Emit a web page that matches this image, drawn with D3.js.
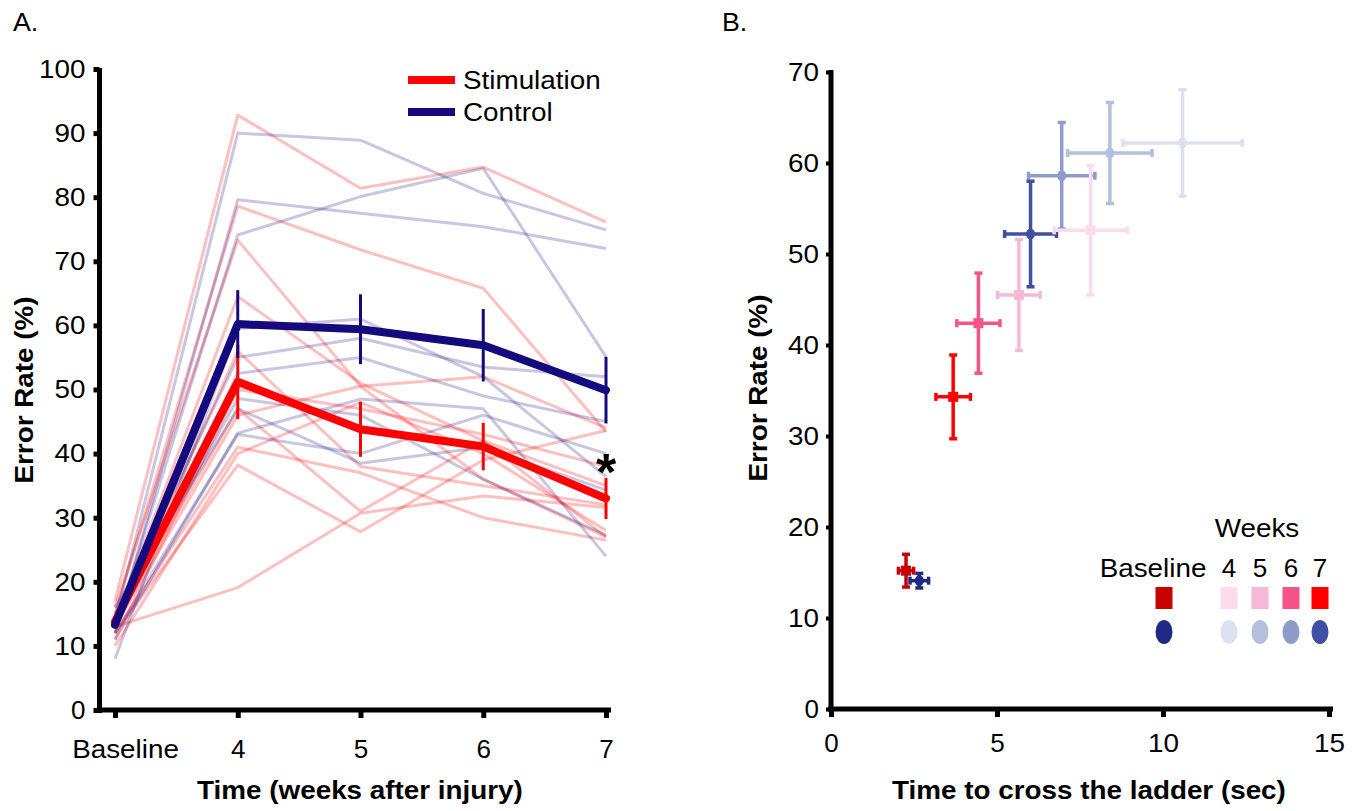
<!DOCTYPE html>
<html><head><meta charset="utf-8">
<script src="https://cdn.jsdelivr.net/npm/d3@7"></script>
<style>
body{margin:0;background:#fff}
text{font-family:Arial,"Liberation Sans",Helvetica,sans-serif;fill:#000}
</style>
</head><body>
<svg id="chart" width="1361" height="811"></svg>
<script>
// ---------- Panel A data ----------
const weeks = ["Baseline","4","5","6","7"];
const stimMean = [13.8, 51.2, 43.8, 41.1, 33.0];
const stimSem  = [0, 5.8, 4.3, 3.7, 3.2];
const ctrlMean = [13.3, 60.2, 59.4, 56.9, 49.9];
const ctrlSem  = [0, 5.3, 5.45, 5.65, 5.2];
const stimIndividuals = [
  [17, 92.8, 81.4, 84.7, 76.1],
  [15, 78.6, 71.8, 65.8, 43.4],
  [16, 73.3, 50.5, 36, 27],
  [13, 19.1, 30.7, 33.4, 31.6],
  [12, 38.2, 27.8, 39.0, 43.6],
  [14, 64.5, 51, 42, 27],
  [13, 46, 50.5, 52, 44],
  [11, 50, 47, 43, 38],
  [12, 41, 37, 30, 26.5],
  [10, 40, 48, 40, 28],
  [14, 47, 31, 42, 35],
  [13, 56, 38, 35, 32]
];
const ctrlIndividuals = [
  [14, 90.0, 88.9, 80.6, 74.9],
  [12, 79.6, 77.5, 75.4, 72.0],
  [13, 74.1, 80.1, 84.5, 55.1],
  [8, 59.5, 61, 52, 36.4],
  [15, 55, 58, 53.5, 52],
  [13, 52.5, 55, 49, 45],
  [11, 43.2, 48.5, 47, 24],
  [16, 47, 38.5, 41, 34.3],
  [12, 43, 40, 46, 40],
  [14, 48.6, 46, 36, 27.3]
];
const yTicksA = [0,10,20,30,40,50,60,70,80,90,100];
const seriesNames = ["Stimulation","Control"];

// ---------- Panel B data ----------
const bLabels = ["Baseline","4","5","6","7"];
const stimTime      = [2.26, 7.82, 5.66, 4.44, 3.68];
const stimTimeErr   = [0.23, 1.10, 0.64, 0.65, 0.52];
const stimRate      = [15.2, 52.6, 45.5, 42.4, 34.3];
const stimRateErr   = [1.8, 7.1, 6.1, 5.5, 4.6];
const ctrlTime      = [2.66, 10.59, 8.40, 6.95, 6.01];
const ctrlTimeErr   = [0.28, 1.80, 1.27, 1.00, 0.78];
const ctrlRate      = [14.1, 62.2, 61.1, 58.6, 52.2];
const ctrlRateErr   = [0.8, 5.85, 5.55, 5.85, 5.8];
const stimColors = ["#c80000","#fadcea","#f7b8d6","#f45487","#ff0000"];
const ctrlColors = ["#1f2a84","#dde1ef","#b4bfdd","#8f9ccb","#3f4fa3"];
const xTicksB = [0,5,10,15];
const yTicksB = [0,10,20,30,40,50,60,70];

const RED = "#ff0000", NAVY = "#150a7d";
const svg = d3.select("#chart");
svg.append("rect").attr("width",1361).attr("height",811).attr("fill","#fff");

function styleAxis(g, w){
  g.select(".domain").remove();
  g.selectAll(".tick line").attr("stroke","#000").attr("stroke-width",w);
  g.selectAll(".tick text").attr("font-size",26).attr("fill","#000");
}

// ================= PANEL A =================
const xA = d3.scalePoint().domain(weeks).range([115, 606]);
const yA = d3.scaleLinear().domain([0,100]).range([710, 69]);
const gA = svg.append("g");

const lineA = d3.line().x((d,i)=>xA(weeks[i])).y(d=>yA(d));
gA.selectAll(".sInd").data(stimIndividuals).join("path")
  .attr("d", lineA).attr("fill","none").attr("stroke","rgba(255,0,0,0.25)")
  .attr("stroke-width",3).attr("stroke-linejoin","round");
gA.selectAll(".cInd").data(ctrlIndividuals).join("path")
  .attr("d", lineA).attr("fill","none").attr("stroke","rgba(21,10,125,0.23)")
  .attr("stroke-width",3).attr("stroke-linejoin","round");

function meanSeries(mean, sem, color){
  gA.append("path").datum(mean).attr("d", lineA).attr("fill","none")
    .attr("stroke",color).attr("stroke-width",8)
    .attr("stroke-linejoin","round").attr("stroke-linecap","round");
  gA.selectAll(null).data(mean.map((m,i)=>({m, s:sem[i], w:weeks[i]})).filter(d=>d.s>0))
    .join("line")
    .attr("x1",d=>xA(d.w)).attr("x2",d=>xA(d.w))
    .attr("y1",d=>yA(d.m+d.s)).attr("y2",d=>yA(d.m-d.s))
    .attr("stroke",color).attr("stroke-width",3);
}
meanSeries(stimMean, stimSem, RED);
meanSeries(ctrlMean, ctrlSem, NAVY);

const axYA = gA.append("g").attr("transform","translate(99.5,0)")
  .call(d3.axisLeft(yA).tickValues(yTicksA).tickSize(6).tickPadding(8));
styleAxis(axYA, 5);
gA.append("line").attr("x1",99.5).attr("x2",99.5).attr("y1",yA(100)-1).attr("y2",yA(0)+3)
  .attr("stroke","#000").attr("stroke-width",5);
const axXA = gA.append("g").attr("transform",`translate(0,${yA(0)})`)
  .call(d3.axisBottom(xA).tickSize(8).tickPadding(22));
styleAxis(axXA, 5);
axXA.selectAll(".tick line").attr("y1",2);
axXA.selectAll(".tick text").filter(d=>d==="Baseline").attr("dx",10);
gA.append("line").attr("x1",97).attr("x2",611).attr("y1",yA(0)).attr("y2",yA(0))
  .attr("stroke","#000").attr("stroke-width",5);

svg.append("text").attr("x",13).attr("y",31).attr("font-size",25).text("A.");
svg.append("text").attr("transform","translate(33,390) rotate(-90)")
  .attr("text-anchor","middle").attr("font-size",26).attr("font-weight","bold").text("Error Rate (%)");
svg.append("text").attr("x",360).attr("y",799).attr("text-anchor","middle")
  .attr("font-size",26).attr("font-weight","bold").text("Time (weeks after injury)");
svg.append("text").attr("class","nostretch").attr("x",xA("7")).attr("y",490).attr("text-anchor","middle")
  .attr("font-size",52).attr("font-weight","bold").text("*");

const legA = svg.append("g");
[RED, NAVY].forEach((c,i)=>{
  legA.append("line").attr("x1",408).attr("x2",455).attr("y1",80+i*32).attr("y2",80+i*32)
    .attr("stroke",c).attr("stroke-width",8);
  legA.append("text").attr("x",463).attr("y",89+i*32).attr("font-size",26).text(seriesNames[i]);
});

// ================= PANEL B =================
const xB = d3.scaleLinear().domain([0,15]).range([831, 1329]);
const yB = d3.scaleLinear().domain([0,70]).range([709, 72]);
const gB = svg.append("g");

const axYB = gB.append("g").attr("transform","translate(831,0)")
  .call(d3.axisLeft(yB).tickValues(yTicksB).tickSize(5).tickPadding(7));
styleAxis(axYB, 4);
gB.append("line").attr("x1",831).attr("x2",831).attr("y1",yB(70)-2).attr("y2",yB(0)+3)
  .attr("stroke","#000").attr("stroke-width",5);
const axXB = gB.append("g").attr("transform",`translate(0,${yB(0)})`)
  .call(d3.axisBottom(xB).tickValues(xTicksB).tickSize(8).tickPadding(17));
styleAxis(axXB, 5);
gB.append("line").attr("x1",828).attr("x2",1333).attr("y1",yB(0)).attr("y2",yB(0))
  .attr("stroke","#000").attr("stroke-width",5);

function crossBars(x, xe, y, ye, color){
  const g = gB.append("g").attr("stroke",color).attr("fill",color);
  const cx = xB(x), cy = yB(y);
  g.append("line").attr("x1",xB(x-xe)).attr("x2",xB(x+xe)).attr("y1",cy).attr("y2",cy).attr("stroke-width",3.5);
  g.append("line").attr("x1",cx).attr("x2",cx).attr("y1",yB(y+ye)).attr("y2",yB(y-ye)).attr("stroke-width",3.5);
  [x-xe, x+xe].forEach(v=>g.append("line").attr("x1",xB(v)).attr("x2",xB(v)).attr("y1",cy-4).attr("y2",cy+4).attr("stroke-width",3.5));
  [y-ye, y+ye].forEach(v=>g.append("line").attr("x1",cx-4).attr("x2",cx+4).attr("y1",yB(v)).attr("y2",yB(v)).attr("stroke-width",3.5));
  return g;
}
const order = [1,2,3,4,0];
order.forEach(i=>{
  const g = crossBars(ctrlTime[i], ctrlTimeErr[i], ctrlRate[i], ctrlRateErr[i], ctrlColors[i]);
  g.append("ellipse").attr("cx",xB(ctrlTime[i])).attr("cy",yB(ctrlRate[i])).attr("rx",4.5).attr("ry",5.5).attr("stroke","none");
});
order.forEach(i=>{
  const g = crossBars(stimTime[i], stimTimeErr[i], stimRate[i], stimRateErr[i], stimColors[i]);
  g.append("rect").attr("x",xB(stimTime[i])-5).attr("y",yB(stimRate[i])-5).attr("width",10).attr("height",10).attr("stroke","none");
});

svg.append("text").attr("x",722).attr("y",31).attr("font-size",25).text("B.");
svg.append("text").attr("transform","translate(767,388) rotate(-90)")
  .attr("text-anchor","middle").attr("font-size",26).attr("font-weight","bold").text("Error Rate (%)");
svg.append("text").attr("x",1089).attr("y",799).attr("text-anchor","middle")
  .attr("font-size",26).attr("font-weight","bold").text("Time to cross the ladder (sec)");

const legB = svg.append("g");
const legX = d3.scaleOrdinal().domain(bLabels).range([1164, 1229, 1260, 1291, 1320]);
legB.append("text").attr("x",1257).attr("y",537).attr("text-anchor","middle").attr("font-size",26).text("Weeks");
bLabels.forEach((l,i)=>{
  const lx = i===0 ? 1153 : legX(l);
  legB.append("text").attr("x",lx).attr("y",577).attr("text-anchor","middle").attr("font-size",26).text(l);
  legB.append("rect").attr("x",legX(l)-8.5).attr("y",587).attr("width",17).attr("height",22).attr("fill",stimColors[i]);
  legB.append("ellipse").attr("cx",legX(l)).attr("cy",632).attr("rx",8.5).attr("ry",12).attr("fill",ctrlColors[i]);
});

// slightly wider glyphs, like the reference typeface
svg.selectAll("text:not(.nostretch)").each(function(){
  const len = this.getComputedTextLength();
  if (len > 20) d3.select(this).attr("textLength", len*1.07).attr("lengthAdjust","spacingAndGlyphs");
});
</script>
</body></html>
